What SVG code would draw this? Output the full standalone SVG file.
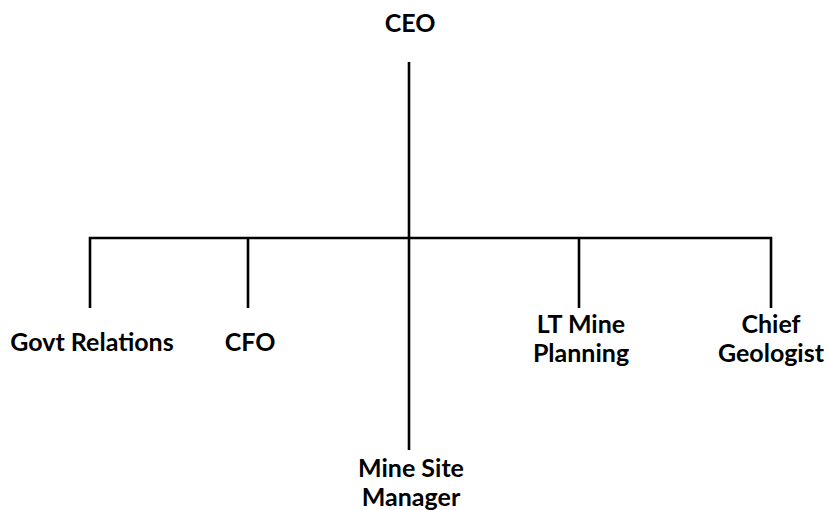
<svg xmlns="http://www.w3.org/2000/svg" width="830" height="510" viewBox="0 0 830 510">
<style>
.c{stroke:#000;stroke-width:2.6;fill:none;stroke-linecap:butt}
.t{font-family:"Lato","Liberation Sans",sans-serif;font-weight:bold;font-size:25px;fill:#000;text-anchor:middle}
</style>
<rect width="830" height="510" fill="#fff"/>
<g id="connectors">
<path class="c" d="M409 62V450"/>
<path class="c" d="M90 308V238H771V308"/>
<path class="c" d="M248 238V308"/>
<path class="c" d="M579 238V308"/>
</g>
<g id="ceo"><text class="t" x="410" y="32">CEO</text></g>
<g id="govt"><text class="t" x="92" y="351">Govt Relations</text></g>
<g id="cfo"><text class="t" x="250" y="351">CFO</text></g>
<g id="ltmine"><text class="t" x="581" y="333">LT Mine</text><text class="t" x="581" y="362">Planning</text></g>
<g id="geo"><text class="t" x="771" y="333">Chief</text><text class="t" x="771" y="362">Geologist</text></g>
<g id="site"><text class="t" x="411" y="477">Mine Site</text><text class="t" x="411" y="506">Manager</text></g>
</svg>
